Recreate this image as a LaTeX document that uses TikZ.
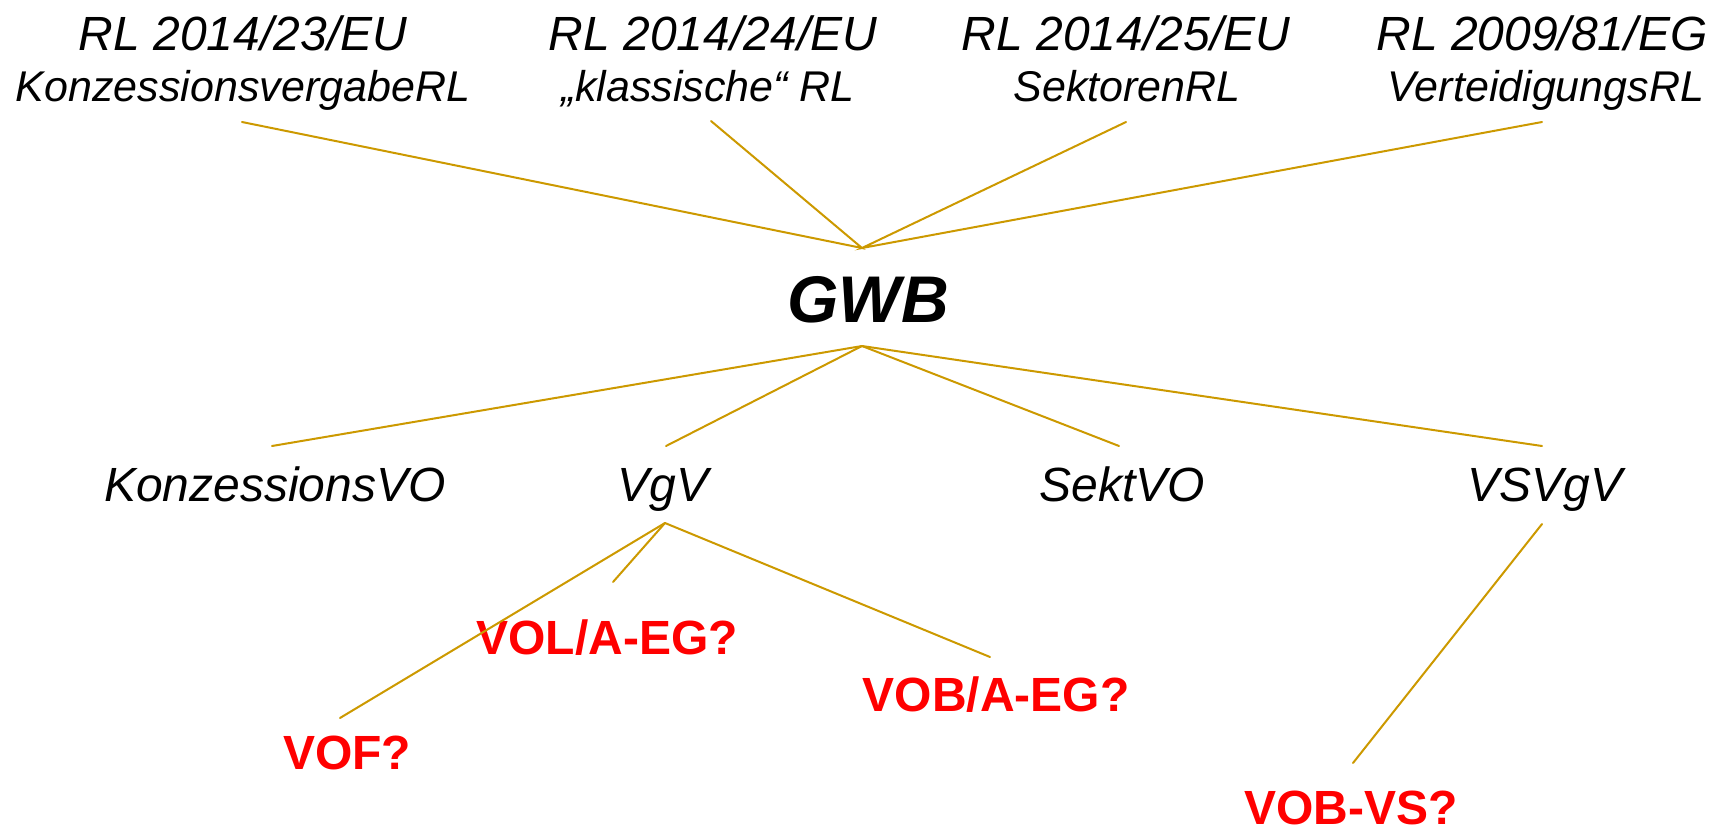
\documentclass[tikz,border=0pt]{standalone}
\usepackage{fontspec}
\setmainfont{Liberation Sans}
\definecolor{gold}{RGB}{204,153,0}
\definecolor{qred}{RGB}{255,0,0}
\begin{document}
\begin{tikzpicture}[x=1pt,y=-1pt,
  every node/.style={inner sep=0pt, anchor=base},
  directive/.style={font=\fontsize{48}{58}\selectfont\itshape},
  dirname/.style={font=\fontsize{43}{52}\selectfont\itshape},
  ordinance/.style={font=\fontsize{48}{58}\selectfont\itshape},
  statute/.style={font=\fontsize{66}{80}\selectfont\bfseries\itshape},
  openq/.style={font=\fontsize{48}{58}\selectfont\bfseries, text=qred},
  link/.style={draw=gold, line width=2pt, line cap=round}]
\useasboundingbox (0,0) rectangle (1721,828);

% EU directives
\node[directive] (rl23) at (243,50) {RL 2014/23/EU};
\node[dirname]   (rl23n) at (243,101) {KonzessionsvergabeRL};
\node[directive] (rl24) at (713,50) {RL 2014/24/EU};
\node[dirname]   (rl24n) at (708,101) {„klassische“ RL};
\node[directive] (rl25) at (1126,50) {RL 2014/25/EU};
\node[dirname]   (rl25n) at (1127,101) {SektorenRL};
\node[directive] (rl81) at (1542,50) {RL 2009/81/EG};
\node[dirname]   (rl81n) at (1546,101) {VerteidigungsRL};

% national statute
\node[statute] (gwb) at (868,322) {GWB};

% ordinances
\node[ordinance] (kvo)  at (275,501) {KonzessionsVO};
\node[ordinance] (vgv)  at (663,501) {VgV};
\node[ordinance] (svo)  at (1122,501) {SektVO};
\node[ordinance] (vsv)  at (1545,501) {VSVgV};

% open questions
\node[openq] (vol) at (607,654) {VOL/A-EG?};
\node[openq] (vob) at (996,711) {VOB/A-EG?};
\node[openq] (vof) at (347,769) {VOF?};
\node[openq] (vobvs) at (1351,824) {VOB-VS?};

% connector end points
\coordinate (gwbtop) at (862,248);
\coordinate (gwbbot) at (862,346);
\coordinate (rl23e) at (242,122);
\coordinate (rl24e) at (711,121);
\coordinate (rl25e) at (1126,122);
\coordinate (rl81e) at (1542,122);
\coordinate (kvoe) at (272,446);
\coordinate (vgve) at (666,446);
\coordinate (svoe) at (1119,446);
\coordinate (vsve) at (1542,446);
\coordinate (vgvb) at (665,523);
\coordinate (vsvb) at (1542,524);
\coordinate (vole) at (613,582);
\coordinate (vobe) at (990,657);
\coordinate (vofe) at (340,718);
\coordinate (vobvse) at (1353,763);

% directives into the GWB
\draw[link] (rl23e) -- (gwbtop) -- (rl24e);
\draw[link] (rl25e) -- (gwbtop) -- (rl81e);

% GWB down to the ordinances
\draw[link] (gwbbot) -- (kvoe);
\draw[link] (gwbbot) -- (vgve);
\draw[link] (gwbbot) -- (svoe);
\draw[link] (gwbbot) -- (vsve);

% ordinances down to the open questions
\draw[link] (vgvb) -- (vole);
\draw[link] (vgvb) -- (vobe);
\draw[link] (vgvb) -- (vofe);
\draw[link] (vsvb) -- (vobvse);
\end{tikzpicture}
\end{document}
